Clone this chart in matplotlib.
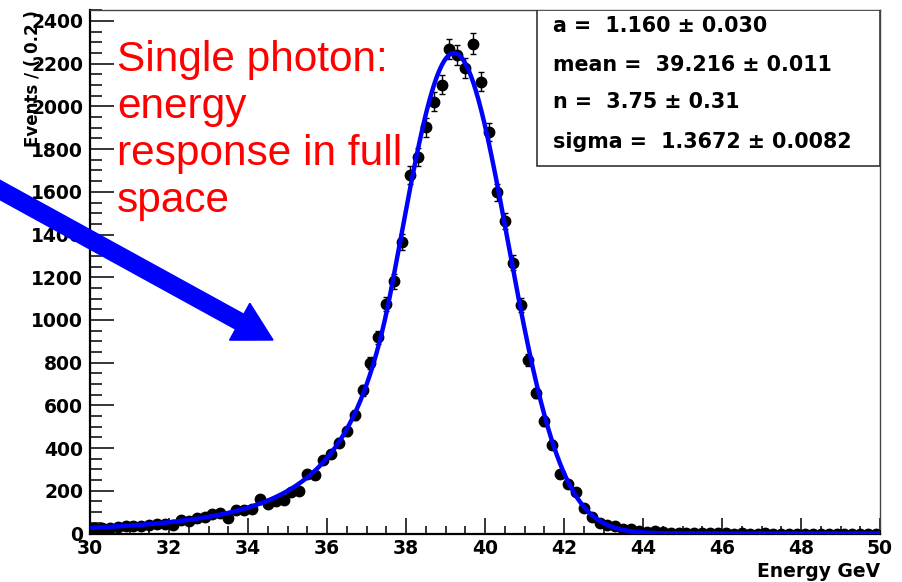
import numpy as np
import matplotlib
matplotlib.use("Agg")
import matplotlib.pyplot as plt
from matplotlib.patches import FancyArrow, Rectangle
from matplotlib.ticker import MultipleLocator

# ---------------- data ----------------
bin_centers = np.round(np.arange(30.1, 50.0, 0.2), 1)
counts = [
    28, 25, 28, 31, 37, 37, 37, 42, 45, 46,          # 30.1 - 31.9
    42, 64, 58, 73, 76, 89, 95, 74, 108, 111,        # 32.1 - 33.9
    116, 163, 140, 152, 155, 196, 200, 278, 272, 342,  # 34.1 - 35.9
    372, 425, 479, 553, 670, 798, 920, 1076, 1181, 1366,  # 36.1 - 37.9
    1678, 1764, 1902, 2022, 2102, 2268, 2241, 2178, 2294, 2116,  # 38.1 - 39.9
    1880, 1597, 1464, 1269, 1069, 814, 658, 526, 416, 278,  # 40.1 - 41.9
    231, 194, 120, 77, 48, 42, 34, 22, 19, 11,       # 42.1 - 43.9
    8, 10, 5, 4, 3, 2, 2, 1, 1, 1,                   # 44.1 - 45.9
    1, 0, 1, 0, 0, 1, 0, 0, 0, 0,                    # 46.1 - 47.9
    0, 0, 0, 0, 0, 0, 0, 0, 0, 0,                    # 48.1 - 49.9
]

# Crystal Ball fit parameters (from stats box) and read-off normalisation
cb_a = 1.160
cb_mean = 39.216
cb_n = 3.75
cb_sigma = 1.3672
cb_norm = 2250.0

stat_lines = [
    "a =  1.160 \u00b1 0.030",
    "mean =  39.216 \u00b1 0.011",
    "n =  3.75 \u00b1 0.31",
    "sigma =  1.3672 \u00b1 0.0082",
]
note_lines = ["Single photon:", "energy", "response in full", "space"]
x_ticks = [30, 32, 34, 36, 38, 40, 42, 44, 46, 48, 50]
y_ticks = list(range(0, 2401, 200))


def crystal_ball(x, a, mean, n, sigma, norm):
    t = (x - mean) / sigma
    A = (n / a) ** n * np.exp(-a * a / 2)
    B = n / a - a
    out = np.where(t > -a, np.exp(-t * t / 2), A * np.abs(B - t) ** (-n))
    return norm * out


# ---------------- figure ----------------
W, H = 902, 582
fig = plt.figure(figsize=(W / 100, H / 100), dpi=100)
ax = fig.add_axes([90 / W, (H - 533.5) / H, 790 / W, 523.5 / H])

y = np.array(counts, dtype=float)
yerr = np.sqrt(y)
ax.errorbar(bin_centers, y, yerr=yerr, fmt="o", color="black", ms=7.5,
            elinewidth=1.0, capsize=2.5, capthick=1.0, zorder=3)

xx = np.linspace(30, 50, 800)
ax.plot(xx, crystal_ball(xx, cb_a, cb_mean, cb_n, cb_sigma, cb_norm),
        color="#0000ff", lw=3.2, zorder=4, solid_capstyle="butt")

ax.set_xlim(30, 50)
ax.set_ylim(0, 2451.5)
ax.set_xticks(x_ticks)
ax.set_yticks(y_ticks)
ax.xaxis.set_minor_locator(MultipleLocator(0.5))
ax.yaxis.set_minor_locator(MultipleLocator(50))

bold = dict(family="DejaVu Sans", weight="bold")
ax.tick_params(axis="y", which="major", direction="in", length=17.3, width=1.1,
               pad=5, labelsize=13.5)
ax.tick_params(axis="y", which="minor", direction="in", length=8.6, width=1.1)
ax.tick_params(axis="x", which="major", direction="in", length=11.5, width=1.1,
               pad=4, labelsize=13.5)
ax.tick_params(axis="x", which="minor", direction="in", length=5.8, width=1.1)
for lab in ax.get_xticklabels() + ax.get_yticklabels():
    lab.set_fontweight("bold")
    lab.set_family("DejaVu Sans")

for s in ("left", "bottom"):
    ax.spines[s].set_linewidth(1.6)
    ax.spines[s].set_color("black")
for s in ("top", "right"):
    ax.spines[s].set_linewidth(1.0)
    ax.spines[s].set_color("#444444")

# stats box
box = Rectangle(((537 - 90) / 790, (533.5 - 166) / 523.5), (880 - 537) / 790,
                (166 - 10) / 523.5, transform=ax.transAxes, facecolor="white",
                edgecolor="#333333", lw=1.2, zorder=6)
ax.add_patch(box)
for i, line in enumerate(stat_lines):
    base = [31.5, 71.0, 108.5, 148.0][i]
    fig.text(553 / W, (H - base) / H, line, ha="left", va="baseline",
             fontsize=14.9, zorder=7, **bold)

# axis titles
fig.text(880 / W, (H - 577) / H, "Energy GeV", ha="right", va="baseline",
         fontsize=13.5, **bold)
fig.text(33 / W, (H - 147) / H, "Events / ( 0.2 )", rotation=90, ha="center",
         va="bottom", fontsize=12, **bold)

# red annotation
for i, line in enumerate(note_lines):
    base = [71, 118, 165, 212][i]
    fig.text(117 / W, (H - base) / H, line, ha="left", va="baseline",
             fontsize=30.5, color="#ff0000", family="Liberation Sans", zorder=8)

# blue arrow (figure pixel geometry via inches)
x0, y0 = -30, 173.5
x1, y1 = 273, 340
arrow = FancyArrow(x0 / 100, (H - y0) / 100, (x1 - x0) / 100, -(y1 - y0) / 100,
                   width=0.17, head_width=0.42, head_length=0.38,
                   length_includes_head=True, color="#0000ff",
                   transform=fig.dpi_scale_trans, zorder=9)
fig.add_artist(arrow)

fig.savefig("out.png", dpi=100, facecolor="white")
